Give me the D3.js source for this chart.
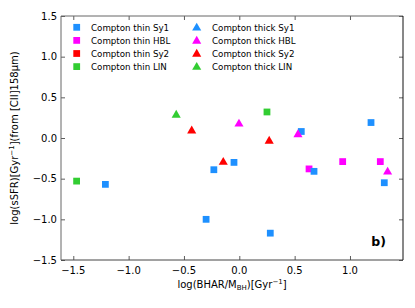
<!DOCTYPE html>
<html><head><meta charset="utf-8">
<script src="https://cdn.jsdelivr.net/npm/d3@7"></script>
<style>body{margin:0;background:#fff}svg{display:block}text{font-family:"DejaVu Sans",sans-serif}</style>
</head><body><svg id="c" width="415" height="308"></svg>
<script>
const categories = ["Compton thin Sy1","Compton thin HBL","Compton thin Sy2","Compton thin LIN",
                    "Compton thick Sy1","Compton thick HBL","Compton thick Sy2","Compton thick LIN"];
const colors = {Sy1:"#1E90FF", HBL:"#FF00FF", Sy2:"#FF0000", LIN:"#32CD32"};
// thin (squares): [x, y, type]
const thinPoints = [
  [-1.47,-0.53,"LIN"],[-1.21,-0.57,"Sy1"],[-0.30,-1.00,"Sy1"],[-0.23,-0.39,"Sy1"],
  [-0.048,-0.30,"Sy1"],[0.28,-1.17,"Sy1"],[0.25,0.32,"LIN"],[0.56,0.08,"Sy1"],
  [1.19,0.19,"Sy1"],[0.63,-0.38,"HBL"],[0.675,-0.41,"Sy1"],[0.934,-0.29,"HBL"],
  [1.274,-0.29,"HBL"],[1.31,-0.55,"Sy1"]
];
// thick (triangles)
const thickPoints = [
  [-0.57,0.29,"LIN"],[-0.43,0.095,"Sy2"],[-0.003,0.18,"HBL"],[0.27,-0.03,"Sy2"],
  [0.53,0.05,"HBL"],[-0.145,-0.29,"Sy2"],[1.34,-0.41,"HBL"]
];
const xMajorTicks = [-1.5,-1.0,-0.5,0.0,0.5,1.0];
const yMajorTicks = [-1.5,-1.0,-0.5,0.0,0.5,1.0,1.5];

const L=61,R=403,T=16,B=260;
const x=d3.scaleLinear().domain([-1.611,1.479]).range([L,R]);
const y=d3.scaleLinear().domain([-1.5,1.5]).range([B,T]);
const svg=d3.select("#c");
const fmt=d3.format(".1f");
const lab=v=>fmt(v).replace("-","\u2212");

const xMinor=d3.range(-16,15).map(i=>i/10).filter(v=>v>=-1.611&&v<=1.479);
const yMinor=d3.range(-15,16).map(i=>i/10);

function ax(gen,scale,major,minor,tr){
  const g=svg.append("g").attr("transform",tr);
  g.call(gen(scale).tickValues(minor).tickSize(2).tickFormat(""));
  g.call(gen(scale).tickValues(major).tickSize(4).tickFormat(""));
  g.selectAll(".domain").remove();
  g.selectAll(".tick line").attr("stroke","#333").attr("stroke-width",0.8);
  return g;
}
ax(d3.axisTop,x,xMajorTicks,xMinor,`translate(0,${B})`);
ax(d3.axisBottom,x,xMajorTicks,xMinor,`translate(0,${T})`);
ax(d3.axisRight,y,yMajorTicks,yMinor,`translate(${L},0)`);
ax(d3.axisLeft,y,yMajorTicks,yMinor,`translate(${R},0)`);
// tick labels
svg.append("g").selectAll("text").data(xMajorTicks).join("text")
  .attr("x",d=>x(d)).attr("y",B+13.5).attr("text-anchor","middle").attr("font-size",10).text(lab);
svg.append("g").selectAll("text").data(yMajorTicks).join("text")
  .attr("x",L-4).attr("y",d=>y(d)+3.6).attr("text-anchor","end").attr("font-size",10).text(lab);

// frame
svg.append("line").attr("x1",L).attr("x2",R).attr("y1",T).attr("y2",T).attr("stroke","#666");
svg.append("line").attr("x1",L).attr("x2",R).attr("y1",B).attr("y2",B).attr("stroke","#444");
svg.append("line").attr("x1",L).attr("x2",L).attr("y1",T).attr("y2",B).attr("stroke","#666");
svg.append("line").attr("x1",R).attr("x2",R).attr("y1",T).attr("y2",B).attr("stroke","#111");

const sq=d3.symbol().type(d3.symbolSquare).size(46);
const tri=d3.symbol().type(d3.symbolTriangle).size(36);

svg.append("g").selectAll("path").data(thinPoints).join("path")
  .attr("d",sq).attr("transform",d=>`translate(${x(d[0])},${y(d[1])})`).attr("fill",d=>colors[d[2]]);
svg.append("g").selectAll("path").data(thickPoints).join("path")
  .attr("d",tri).attr("transform",d=>`translate(${x(d[0])},${y(d[1])+0.6})`).attr("fill",d=>colors[d[2]]);

// legend
const types=["Sy1","HBL","Sy2","LIN"];
const lg=svg.append("g");
categories.forEach((c,i)=>{
  const col=Math.floor(i/4), row=i%4;
  const cy=27.3+row*13.1;
  const mx=col?196.7:76.7, tx=col?212:91;
  lg.append("path").attr("d",col?tri:sq).attr("transform",`translate(${mx},${cy+(col?0.6:0)})`).attr("fill",colors[types[row]]);
  lg.append("text").attr("x",tx).attr("y",cy+3.2).attr("font-size",8.7).text(c);
});

svg.append("text").attr("x",386).attr("y",245.5).attr("text-anchor","end").attr("font-size",12.5).attr("font-weight","bold").text("b)");

// axis labels
const xl=svg.append("text").attr("x",(L+R)/2).attr("y",288).attr("text-anchor","middle").attr("font-size",10);
xl.append("tspan").text("log(BHAR/M");
xl.append("tspan").attr("font-size",7).attr("dy",1.5).text("BH");
xl.append("tspan").attr("dy",-1.5).text(")[Gyr");
xl.append("tspan").attr("font-size",7).attr("dy",-4).text("\u22121");
xl.append("tspan").attr("dy",4).text("]");

const yl=svg.append("text").attr("transform",`translate(18,${(T+B)/2}) rotate(-90)`).attr("text-anchor","middle").attr("font-size",10);
yl.append("tspan").text("log(sSFR)[Gyr");
yl.append("tspan").attr("font-size",7).attr("dy",-4).text("\u22121");
yl.append("tspan").attr("dy",4).text("](from [CII]158\u03bcm)");
</script></body></html>
